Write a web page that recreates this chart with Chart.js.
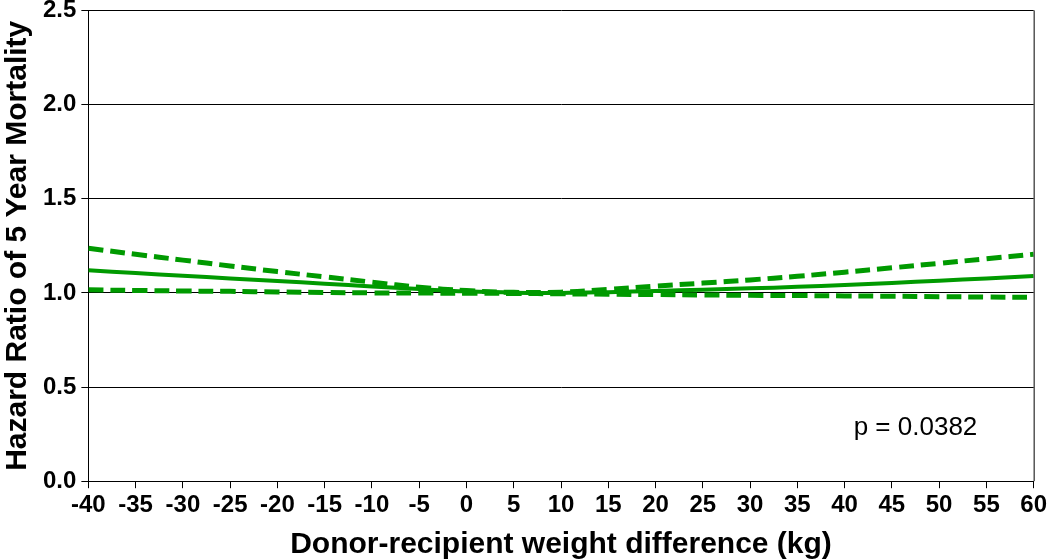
<!DOCTYPE html>
<html>
<head>
<meta charset="utf-8">
<script src="https://cdn.jsdelivr.net/npm/chart.js@4.4.0/dist/chart.umd.min.js"></script>
<style>
  html, body { margin: 0; padding: 0; background: #fff; overflow: hidden; }
  #hrChart { display: block; margin-top: -9px; }
</style>
</head>
<body>
<canvas id="hrChart" width="1050" height="568"></canvas>
<script>
// ===== DATA =====
const weightDiff = [-40, -35, -30, -25, -20, -15, -10, -5, 0, 5, 10, 15, 20, 25, 30, 35, 40, 45, 50, 55, 60];
const hrEstimate = [1.120, 1.105, 1.091, 1.077, 1.063, 1.049, 1.034, 1.020, 1.008, 1.001, 1.000, 1.004, 1.010, 1.017, 1.024, 1.032, 1.042, 1.053, 1.065, 1.077, 1.090];
const hrUpper    = [1.237, 1.205, 1.174, 1.143, 1.113, 1.085, 1.057, 1.030, 1.012, 1.003, 1.004, 1.018, 1.036, 1.052, 1.069, 1.088, 1.110, 1.133, 1.157, 1.181, 1.205];
const hrLower    = [1.016, 1.013, 1.010, 1.008, 1.005, 1.002, 1.000, 0.999, 0.998, 0.997, 0.995, 0.993, 0.991, 0.989, 0.987, 0.986, 0.984, 0.982, 0.980, 0.978, 0.976];
const pValueText = 'p = 0.0382';
const pValuePos = { x: 47.5, y: 0.285 };

const green = '#009a00';
const toPoints = (ys) => weightDiff.map((x, i) => ({ x: x, y: ys[i] }));

// right frame line + p value
const extras = {
  id: 'extras',
  afterDraw(chart) {
    const { ctx, chartArea, scales } = chart;
    ctx.save();
    ctx.strokeStyle = '#000';
    ctx.lineWidth = 1;
    ctx.beginPath();
    ctx.moveTo(chartArea.right + 0.5, chartArea.top);
    ctx.lineTo(chartArea.right + 0.5, chartArea.bottom);
    ctx.stroke();
    ctx.fillStyle = '#000';
    ctx.font = '26px "Liberation Sans", Arial, sans-serif';
    ctx.textAlign = 'center';
    ctx.textBaseline = 'middle';
    ctx.fillText(pValueText, scales.x.getPixelForValue(pValuePos.x), scales.y.getPixelForValue(pValuePos.y));
    ctx.restore();
  }
};

const tickFont = { family: '"Liberation Sans", Arial, sans-serif', size: 24, weight: 'bold' };
const titleFont = { family: '"Liberation Sans", Arial, sans-serif', size: 30, weight: 'bold' };

new Chart(document.getElementById('hrChart').getContext('2d'), {
  type: 'line',
  data: {
    datasets: [
      {
        label: 'Upper 95% CI',
        data: toPoints(hrUpper),
        borderColor: green,
        borderWidth: 5,
        borderDash: [15, 7],
        pointRadius: 0,
        tension: 0.4,
        fill: false
      },
      {
        label: 'Hazard ratio',
        data: toPoints(hrEstimate),
        borderColor: green,
        borderWidth: 4,
        pointRadius: 0,
        tension: 0.4,
        fill: false
      },
      {
        label: 'Lower 95% CI',
        data: toPoints(hrLower),
        borderColor: green,
        borderWidth: 5,
        borderDash: [15, 7],
        pointRadius: 0,
        tension: 0.4,
        fill: false
      }
    ]
  },
  options: {
    responsive: false,
    animation: false,
    layout: { padding: { top: 0, right: 0, left: 0, bottom: -4 } },
    scales: {
      x: {
        type: 'linear',
        min: -40,
        max: 60,
        ticks: { stepSize: 5, color: '#000', font: tickFont, padding: 3, maxRotation: 0 },
        grid: { drawOnChartArea: false, drawTicks: true, tickLength: 7, color: '#000' },
        border: { color: '#000', width: 1 },
        title: { display: true, text: 'Donor-recipient weight difference (kg)', color: '#000', font: titleFont, padding: { top: 4, bottom: 0 } }
      },
      y: {
        min: 0,
        max: 2.5,
        ticks: { stepSize: 0.5, color: '#000', font: tickFont, padding: 5, callback: (v) => v.toFixed(1) },
        grid: { color: '#000', lineWidth: 1, tickLength: 7 },
        border: { color: '#000', width: 1 },
        title: { display: true, text: 'Hazard Ratio of 5 Year Mortality', color: '#000', font: titleFont, padding: { top: 0, bottom: 2 } }
      }
    },
    plugins: {
      legend: { display: false },
      tooltip: { enabled: false }
    }
  },
  plugins: [extras]
});
</script>
</body>
</html>
